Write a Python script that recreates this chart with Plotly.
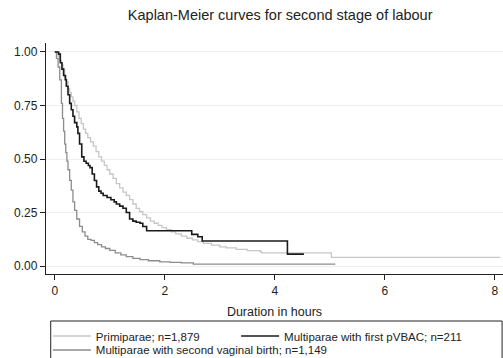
import plotly.graph_objects as go

# Primiparae; n=1,879
prim_t = [0, 0.03, 0.06, 0.09, 0.12, 0.15, 0.18, 0.21, 0.24, 0.27, 0.30, 0.33, 0.36, 0.40, 0.44, 0.48, 0.52,
          0.56, 0.60, 0.65, 0.70, 0.75, 0.80, 0.85, 0.90, 0.95, 1.00, 1.06, 1.12, 1.18, 1.24, 1.30, 1.36, 1.42,
          1.48, 1.54, 1.60, 1.67, 1.74, 1.81, 1.88, 1.95, 2.03, 2.12, 2.20, 2.30, 2.40, 2.50, 2.60, 2.70, 2.85,
          3.00, 3.12, 3.30, 3.50, 3.73, 3.76, 5.03, 8.1]
prim_s = [1.0, 0.995, 0.98, 0.96, 0.94, 0.92, 0.89, 0.86, 0.83, 0.81, 0.79, 0.77, 0.75, 0.72, 0.69, 0.665, 0.64,
          0.62, 0.60, 0.58, 0.56, 0.535, 0.51, 0.49, 0.47, 0.45, 0.43, 0.41, 0.385, 0.365, 0.345, 0.33, 0.31,
          0.29, 0.27, 0.255, 0.24, 0.225, 0.21, 0.20, 0.19, 0.18, 0.17, 0.16, 0.15, 0.14, 0.13, 0.122, 0.114,
          0.106, 0.098, 0.09, 0.085, 0.078, 0.072, 0.068, 0.062, 0.041, 0.041]

# Multiparae with second vaginal birth; n=1,149
sec_t = [0, 0.03, 0.06, 0.09, 0.12, 0.14, 0.16, 0.18, 0.20, 0.22, 0.24, 0.27, 0.30, 0.33, 0.36, 0.40, 0.45,
         0.50, 0.55, 0.60, 0.66, 0.72, 0.78, 0.85, 0.92, 1.00, 1.10, 1.20, 1.30, 1.42, 1.55, 1.70, 1.91, 2.10,
         2.30, 2.52, 5.1]
sec_s = [1.0, 0.97, 0.93, 0.87, 0.76, 0.69, 0.63, 0.57, 0.53, 0.49, 0.45, 0.40, 0.355, 0.30, 0.26, 0.22, 0.185,
         0.16, 0.14, 0.125, 0.12, 0.11, 0.10, 0.09, 0.082, 0.073, 0.062, 0.052, 0.044, 0.036, 0.03, 0.025, 0.02,
         0.017, 0.015, 0.009, 0.009]

# Multiparae with first pVBAC; n=211
vbac_t = [0, 0.07, 0.1, 0.13, 0.16, 0.19, 0.21, 0.24, 0.27, 0.30, 0.33, 0.36, 0.40, 0.42, 0.45, 0.49, 0.53,
          0.57, 0.61, 0.64, 0.68, 0.72, 0.76, 0.80, 0.84, 0.88, 0.95, 1.02, 1.08, 1.12, 1.18, 1.24, 1.30, 1.36,
          1.42, 1.48, 1.55, 1.60, 1.67, 2.49, 2.60, 2.68, 4.23, 4.53]
vbac_s = [1.0, 0.99, 0.95, 0.92, 0.89, 0.87, 0.84, 0.80, 0.76, 0.73, 0.70, 0.67, 0.65, 0.62, 0.57, 0.51, 0.49,
          0.48, 0.47, 0.46, 0.43, 0.40, 0.37, 0.35, 0.34, 0.33, 0.32, 0.31, 0.30, 0.29, 0.28, 0.27, 0.25, 0.22,
          0.21, 0.205, 0.20, 0.185, 0.165, 0.148, 0.137, 0.117, 0.056, 0.056]

x_ticks = [0, 2, 4, 6, 8]
y_ticks = [0, 0.25, 0.5, 0.75, 1.0]

FONT = "Liberation Sans, Arial, sans-serif"

fig = go.Figure()
fig.add_trace(go.Scatter(x=prim_t, y=prim_s, mode="lines", line=dict(shape="hv", color="#c6c6c6", width=1.3),
                         name="Primiparae; n=1,879", legend="legend"))
fig.add_trace(go.Scatter(x=sec_t, y=sec_s, mode="lines", line=dict(shape="hv", color="#8c8c8c", width=1.3),
                         name="Multiparae with second vaginal birth; n=1,149", legend="legend3"))
fig.add_trace(go.Scatter(x=vbac_t, y=vbac_s, mode="lines", line=dict(shape="hv", color="#1a1a1a", width=1.6),
                         name="Multiparae with first pVBAC; n=211", legend="legend2"))

leg_common = dict(orientation="h", xanchor="left", yanchor="middle", borderwidth=0,
                  font=dict(size=11.5), bgcolor="rgba(0,0,0,0)", itemwidth=38)

fig.update_layout(
    width=503, height=358,
    margin=dict(l=46, r=0, t=43, b=84, autoexpand=False),
    paper_bgcolor="white", plot_bgcolor="white",
    font=dict(family=FONT, size=12, color="#222222"),
    title=dict(text="Kaplan-Meier curves for second stage of labour", x=0.557, xanchor="center",
               y=0.958, yanchor="middle", font=dict(size=14.5, color="#222222")),
    xaxis=dict(range=[-0.16, 8.15], tickvals=x_ticks, ticks="outside", ticklen=5, tickwidth=1.2,
               tickcolor="#222", showline=True, linecolor="#222", linewidth=1.3, showgrid=False,
               zeroline=False, title=dict(text="Duration in hours", font=dict(size=12.5), standoff=10),
               tickfont=dict(size=12)),
    yaxis=dict(range=[-0.037, 1.042], tickvals=y_ticks, tickformat=".2f", ticks="outside", ticklen=5,
               tickwidth=1.2, tickcolor="#222", showline=True, linecolor="#222", linewidth=1.3,
               showgrid=True, gridcolor="#eeeeee", gridwidth=1, zeroline=False, tickfont=dict(size=12)),
    legend=dict(x=0.004, y=-0.2684, **leg_common),
    legend2=dict(x=0.416, y=-0.2684, **leg_common),
    legend3=dict(x=0.004, y=-0.329, **leg_common),
    shapes=[dict(type="rect", xref="paper", yref="paper", x0=0.0103, x1=0.998, y0=-0.2035, y1=-0.45,
                 line=dict(color="#222", width=1), fillcolor="rgba(0,0,0,0)", layer="below")],
    showlegend=True,
)

fig.write_html("out.html", config={"displayModeBar": False},
               post_script="document.body.style.margin='0';")
